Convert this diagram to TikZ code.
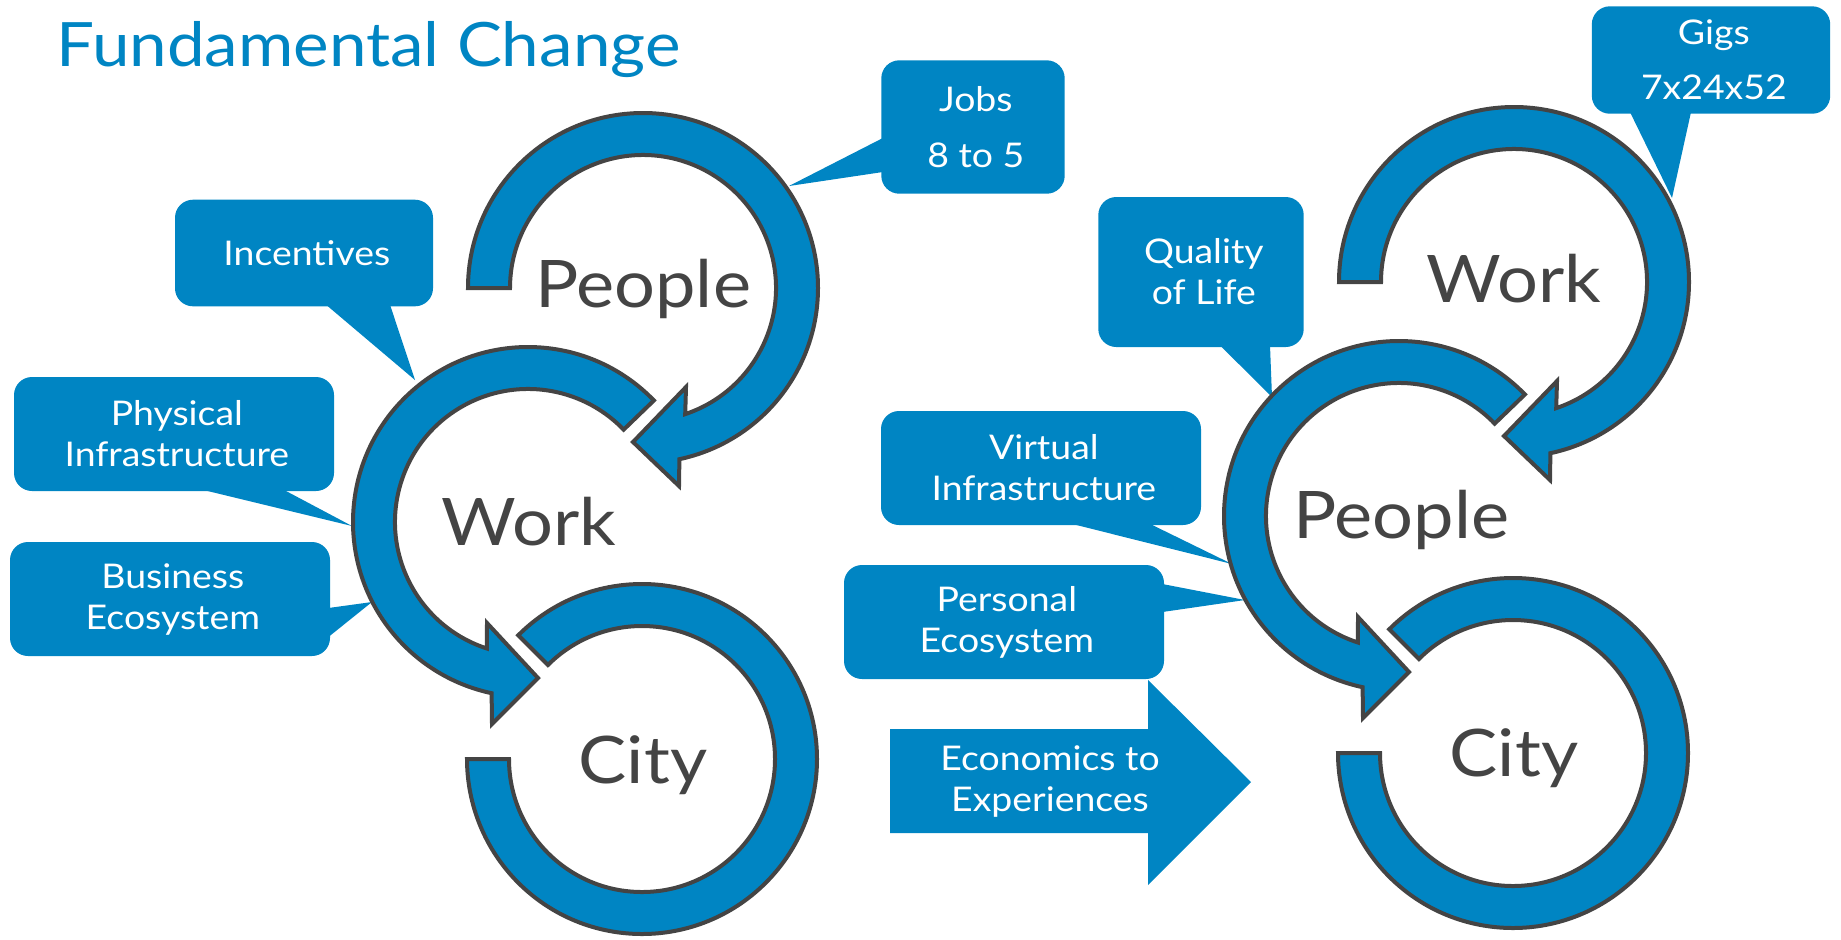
\documentclass[tikz,border=0pt]{standalone}
\usepackage{fontspec}
\setmainfont{Lato}[FakeStretch=1.1]
\usepackage{xcolor}
\usepackage{tikz}
\usetikzlibrary{
    positioning,
    calc
}
\definecolor{dellBlue}{RGB}{0, 133, 195}
\definecolor{ringGray}{RGB}{68, 68, 68}

\begin{document}
\begin{tikzpicture}[x=0.5pt, y=-0.5pt,
    ring/.style={fill=dellBlue, draw=ringGray, line width=2pt},
    callout/.style={fill=dellBlue, rounded corners=9pt, text=white, align=center,
        inner sep=0pt, font=\fontsize{17}{20.5}\selectfont},
    widebox/.style={callout, minimum width=160pt, minimum height=57pt},
    hub/.style={text=ringGray, anchor=base, inner sep=0pt, font=\fontsize{32.8}{39}\selectfont}]

    % 余白 (1841 x 939)
    \useasboundingbox (0,0) rectangle (1841,939);

    % タイトル
    \node[anchor=base west, inner sep=0pt, text=dellBlue, font=\fontsize{30.6}{37}\selectfont]
        (title) at (56,66) {Fundamental Change};

    % 吹き出し (左)
    \node[callout, minimum width=91.7pt, minimum height=66.7pt] (jobs) at (973,127) {\,Jobs\\[7.5pt]\,8 to 5};
    \node[callout, minimum width=129pt, minimum height=53.3pt] (incent) at (304,253) {\,Incentives};
    \node[widebox] (physInfra) at (174,434) {\,Physical\\\,Infrastructure};
    \node[widebox] (busEco) at (170,599) {\,Business\\\,Ecosystem};

    \coordinate (jobsTip) at (789,186);
    \coordinate (incentTip) at (415,380);
    \coordinate (physTip) at (352,526);
    \coordinate (busTip) at (372,602);
    \fill[dellBlue] ($(jobs.west)+(2,11)$) -- (jobsTip) -- ($(jobs.west)+(2,45)$) -- cycle;
    \fill[dellBlue] ($(incent.south)+(22,-2)$) -- (incentTip) -- ($(incent.south)+(86,-2)$) -- cycle;
    \fill[dellBlue] ($(physInfra.south)+(27,-2)$) -- (physTip) -- ($(physInfra.south)+(109,-2)$) -- cycle;
    \fill[dellBlue] ($(busEco.east)+(-2,9)$) -- (busTip) -- ($(busEco.east)+(-2,38)$) -- cycle;

    % 吹き出し (右)
    \node[callout, minimum width=102.7pt, minimum height=75pt] (quality) at (1201,272) {\,Quality\\\,of Life};
    \node[callout, minimum width=119.2pt, minimum height=53.7pt] (gigs) at (1711,60) {\,Gigs\\[7pt]\,7x24x52};
    \node[widebox] (virtInfra) at (1041,468) {\,Virtual\\\,Infrastructure};
    \node[widebox] (persEco) at (1004,622) {\,Personal\\\,Ecosystem};

    \coordinate (qualityTip) at (1272,397);
    \coordinate (gigsTip) at (1672,198);
    \coordinate (virtTip) at (1232,564);
    \coordinate (persTip) at (1245,600);
    \fill[dellBlue] ($(quality.south)+(19,-2)$) -- (qualityTip) -- ($(quality.south)+(69,-2)$) -- cycle;
    \fill[dellBlue] ($(gigs.south)+(-81,-2)$) -- (gigsTip) -- ($(gigs.south)+(-20,-2)$) -- cycle;
    \fill[dellBlue] ($(virtInfra.south)+(29,-2)$) -- (virtTip) -- ($(virtInfra.south)+(108,-2)$) -- cycle;
    \fill[dellBlue] ($(persEco.east)+(-2,-38)$) -- (persTip) -- ($(persEco.east)+(-2,-10)$) -- cycle;

    % 大きな矢印
    \fill[dellBlue] (890,729) -- (1148,729) -- (1148,680) -- (1251,782)
        -- (1148,885) -- (1148,833) -- (890,833) -- cycle;
    \node[text=white, align=center, inner sep=0pt, font=\fontsize{17}{20.5}\selectfont]
        (econ) at (1050,781) {Economics to\\Experiences};

    % 輪 (左右とも同じ形)
    \foreach \dx/\dy in {0/0, 871/-6}{
        \begin{scope}[shift={(\dx,\dy)}]
            % 上の輪
            \begin{scope}[shift={(643,288)}]
                \draw[ring] (180:175) arc[start angle=180, end angle=438, radius=175]
                    -- (36,198) -- (-10,154) -- (43,99) -- (71.5:133)
                    arc[start angle=71.5, end angle=-180, radius=133] -- cycle;
            \end{scope}
            % 中の輪
            \begin{scope}[shift={(528,522)}]
                \draw[ring] (-44:175) arc[start angle=-44, end angle=-258, radius=175]
                    -- (-36,202) -- (10,156) -- (-41,101) -- (-252:133)
                    arc[start angle=-252, end angle=-44, radius=133] -- cycle;
            \end{scope}
            % 下の輪
            \begin{scope}[shift={(642,759)}]
                \draw[ring] (225:175) arc[start angle=225, end angle=540, radius=175]
                    -- (180:133) arc[start angle=540, end angle=225, radius=133] -- cycle;
            \end{scope}
        \end{scope}
    }

    % 輪のラベル
    \node[hub] (peopleL) at (643,307) {People};
    \node[hub] (workL) at (529,545) {Work};
    \node[hub] (cityL) at (643,783) {City};
    \node[hub] (workR) at (1514,302) {Work};
    \node[hub] (peopleR) at (1401,538) {People};
    \node[hub] (cityR) at (1514,776) {City};
\end{tikzpicture}
\end{document}
